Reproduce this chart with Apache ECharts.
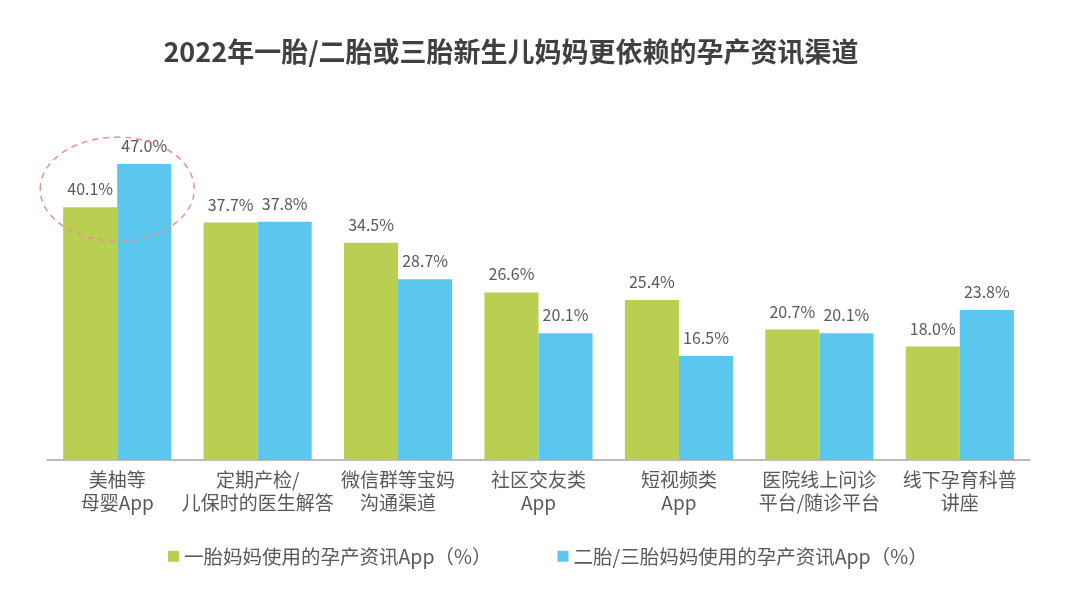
<!DOCTYPE html>
<html>
<head>
<meta charset="utf-8">
<script src="https://cdn.jsdelivr.net/npm/echarts@6/dist/echarts.min.js"></script>
<style>
  html, body { margin: 0; padding: 0; background: #fff; }
  #chart { width: 1080px; height: 592px; }
</style>
</head>
<body>
<div id="chart"></div>
<script>
const categories = [
  "美柚等\n母婴App",
  "定期产检/\n儿保时的医生解答",
  "微信群等宝妈\n沟通渠道",
  "社区交友类\nApp",
  "短视频类\nApp",
  "医院线上问诊\n平台/随诊平台",
  "线下孕育科普\n讲座"
];
const firstMom = [40.1, 37.7, 34.5, 26.6, 25.4, 20.7, 18.0];
const secondMom = [47.0, 37.8, 28.7, 20.1, 16.5, 20.1, 23.8];
const seriesNames = ["一胎妈妈使用的孕产资讯App（%）", "二胎/三胎妈妈使用的孕产资讯App（%）"];

const font = "'Noto Sans CJK SC', 'Microsoft YaHei', sans-serif";

var chart = echarts.init(document.getElementById("chart"), null, { renderer: "canvas" });

const labelStyle = {
  show: true,
  position: "top",
  distance: 10,
  color: "#595959",
  fontSize: 16,
  fontFamily: font,
  formatter: p => p.value.toFixed(1) + "%"
};

var option = {
  title: {
    text: "2022年一胎/二胎或三胎新生儿妈妈更依赖的孕产资讯渠道",
    left: 506,
    textAlign: "center",
    top: 33,
    textStyle: { color: "#404040", fontSize: 27, fontWeight: "bold", fontFamily: font }
  },
  legend: {
    bottom: 21,
    left: 163,
    itemGap: 66,
    itemWidth: 11,
    itemHeight: 11,
    icon: "rect",
    textStyle: { color: "#595959", fontSize: 19.5, fontFamily: font },
    data: seriesNames
  },
  grid: { left: 47, right: 50, top: 145, bottom: 132 },
  xAxis: {
    type: "category",
    data: categories,
    axisLine: { lineStyle: { color: "#a6a6a6", width: 1.5 } },
    axisTick: { show: false },
    axisLabel: { color: "#595959", fontSize: 19, fontFamily: font, lineHeight: 23, margin: 8, interval: 0 }
  },
  yAxis: {
    type: "value",
    min: 0,
    max: 50,
    show: false,
    splitLine: { show: false }
  },
  series: [
    {
      name: seriesNames[0],
      type: "bar",
      data: firstMom,
      barGap: "0%",
      barCategoryGap: "23%",
      itemStyle: { color: "#b8cf51" },
      label: labelStyle
    },
    {
      name: seriesNames[1],
      type: "bar",
      data: secondMom,
      itemStyle: { color: "#5bc6ee" },
      label: labelStyle
    }
  ]
};

chart.setOption(option);

// dashed highlight ellipse around the first group
const c = chart.convertToPixel({ xAxisIndex: 0, yAxisIndex: 0 }, [0, 43]);
chart.setOption({
  graphic: [{
    type: "ellipse",
    shape: { cx: c[0], cy: c[1], rx: 77, ry: 52 },
    style: { fill: "none", stroke: "#ec8f8f", lineWidth: 1.5, lineDash: [6, 5] },
    z: 10
  }]
});

window.addEventListener("resize", chart.resize);
</script>
</body>
</html>
